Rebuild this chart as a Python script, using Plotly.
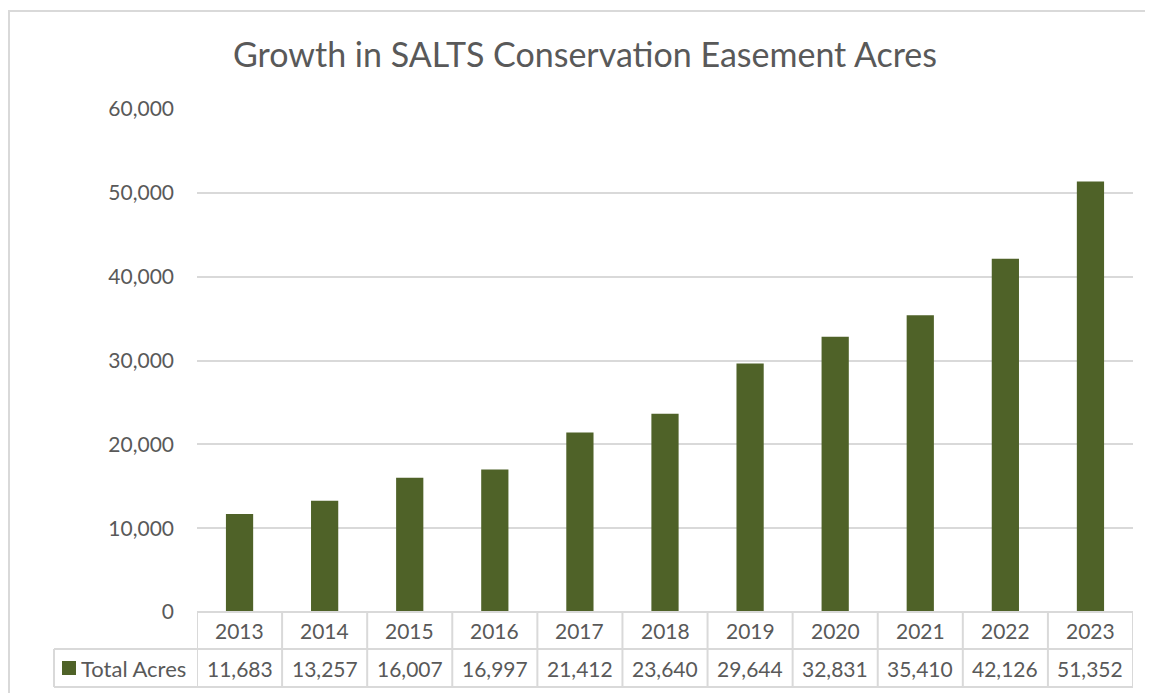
import plotly.graph_objects as go

years = ["2013", "2014", "2015", "2016", "2017", "2018", "2019", "2020", "2021", "2022", "2023"]
acres = [11683, 13257, 16007, 16997, 21412, 23640, 29644, 32831, 35410, 42126, 51352]
series_name = "Total Acres"
title_text = "Growth in SALTS Conservation Easement Acres"

OFF = 8  # page body margin of the html page
W, H = 1153 - OFF, 693 - OFF
PL, PR, PT, PB = 197 - OFF, 1133 - OFF, 109 - OFF, 612 - OFF   # plot area pixel box
BAR = "#4F6228"
TXT = "#595959"
GRID = "#D9D9D9"
FONT = "Lato, Carlito, Calibri, sans-serif"

pw, ph = PR - PL, PB - PT
def px(x):  # screen pixel x -> paper
    return (x - OFF - PL) / pw
def py(y):  # screen pixel y -> paper
    return (PB - (y - OFF)) / ph

fig = go.Figure(go.Bar(x=years, y=acres, marker=dict(color=BAR, line=dict(width=0)),
                       width=0.32, name=series_name, showlegend=False))

shapes = []
ann = []
top_row = 612
row1_bot, row2_bot = 649, 687
label_left = 54
n = len(years)
# horizontal table lines
shapes.append(dict(type="line", xref="paper", yref="paper", x0=0, x1=1, y0=0, y1=0,
                   line=dict(color=GRID, width=2), layer="above"))
for yb in (row1_bot, row2_bot):
    shapes.append(dict(type="line", xref="paper", yref="paper", x0=px(label_left), x1=1,
                       y0=py(yb), y1=py(yb), line=dict(color=GRID, width=2)))
# vertical lines at category boundaries
for i in range(n + 1):
    shapes.append(dict(type="line", xref="x", yref="paper", x0=i - 0.5, x1=i - 0.5,
                       y0=0, y1=py(row2_bot), line=dict(color=GRID, width=2)))
shapes.append(dict(type="line", xref="paper", yref="paper", x0=px(label_left), x1=px(label_left),
                   y0=py(row1_bot), y1=py(row2_bot), line=dict(color=GRID, width=2)))
# outer chart border (left & top)
shapes.append(dict(type="line", xref="paper", yref="paper", x0=px(9), x1=px(9),
                   y0=py(10), y1=py(700), line=dict(color=GRID, width=2)))
shapes.append(dict(type="line", xref="paper", yref="paper", x0=px(8), x1=px(1160),
                   y0=py(11), y1=py(11), line=dict(color=GRID, width=2)))
# legend key
shapes.append(dict(type="rect", xref="paper", yref="paper", x0=px(62), x1=px(76),
                   y0=py(661), y1=py(675), fillcolor=BAR, line=dict(width=0)))

for i, (yr, v) in enumerate(zip(years, acres)):
    ann.append(dict(x=i, y=py((top_row + row1_bot) / 2), xref="x", yref="paper", text=yr,
                    xanchor="center", yanchor="middle",
                    showarrow=False, font=dict(size=21, color=TXT, family=FONT)))
    ann.append(dict(x=i, y=py((row1_bot + row2_bot) / 2), xref="x", yref="paper",
                    xanchor="center", yanchor="middle",
                    text=f"{v:,}", showarrow=False, font=dict(size=21, color=TXT, family=FONT)))
ann.append(dict(x=px(79), y=py((row1_bot + row2_bot) / 2), xref="paper", yref="paper",
                text=series_name, xanchor="left", yanchor="middle", showarrow=False,
                font=dict(size=22, color=TXT, family=FONT)))

fig.update_layout(
    width=W, height=H,
    margin=dict(l=PL, r=W - PR, t=PT, b=H - PB),
    paper_bgcolor="white", plot_bgcolor="white",
    title=dict(text=title_text, x=(585 - OFF) / W, xanchor="center",
               y=1 - (55 - OFF) / H, yanchor="middle",
               font=dict(size=34, color=TXT, family=FONT)),
    xaxis=dict(showticklabels=False, showgrid=False, zeroline=False, showline=False,
               range=[-0.5, n - 0.5]),
    yaxis=dict(range=[0, 60000], dtick=10000, tickformat=",", showgrid=True, gridcolor=GRID,
               gridwidth=2, zeroline=False, showline=False, ticks="", ticklabelstandoff=22,
               tickfont=dict(size=21, color=TXT, family=FONT)),
    shapes=shapes, annotations=ann, bargap=0.68,
)

fig.write_html("out.html")
